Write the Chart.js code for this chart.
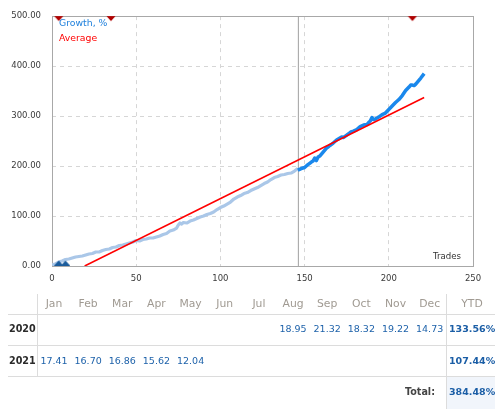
<!DOCTYPE html>
<html>
<head>
<meta charset="utf-8">
<script src="https://cdn.jsdelivr.net/npm/chart.js@4.4.1/dist/chart.umd.min.js"></script>
<style>
  html, body { margin:0; padding:0; background:#fff; width:504px; height:409px; overflow:hidden; font-family:'DejaVu Sans', sans-serif; }
  #c { position:absolute; left:0; top:0; }
  .t { position:absolute; white-space:nowrap; }
  .hl { position:absolute; height:1px; background:#dcdcdc; }
  .vl { position:absolute; width:1px; background:#dcdcdc; }
</style>
</head>
<body>
<canvas id="c" width="504" height="290"></canvas>
<div id="overlay"></div>
<script>
// ---------- data ----------
const growthTradesLight = [0, 2, 4, 6, 8, 10, 12, 14, 16, 18, 20, 22, 24, 26, 28, 30, 32, 34, 36, 38, 40, 42, 44, 46, 48, 50, 52, 54, 56, 58, 60, 62, 64, 66, 68, 70, 72, 74, 75, 76, 77, 78, 80, 82, 84, 86, 88, 90, 92, 94, 96, 98, 100, 102, 104, 106, 108, 110, 112, 114, 116, 118, 120, 122, 124, 126, 128, 130, 132, 134, 136, 138, 140, 142, 144, 146];
const growthValuesLight = [2, 4, 8, 10, 13, 14, 16, 18, 19, 20, 22, 24, 25, 28, 28, 31, 33, 34, 37, 38, 41, 42, 44, 46, 48, 51, 50, 53, 54, 56, 56, 58, 60, 63, 65, 70, 72, 76, 82, 86, 84, 87, 86, 90, 92, 95, 98, 100, 103, 105, 108, 113, 117, 120, 124, 128, 134, 138, 141, 145, 147, 151, 154, 157, 161, 165, 168, 173, 177, 179, 182, 183, 185, 186, 190, 195];
const growthTradesDark = [146, 148, 150, 152, 154, 155, 156, 157, 158, 159, 161, 163, 164, 165, 167, 169, 171, 172, 173, 175, 177, 178, 179, 181, 183, 185, 187, 188, 189, 190, 191, 192, 194, 196, 198, 200, 202, 204, 206, 208, 210, 212, 213, 214, 215, 216, 217, 219, 221];
const growthValuesDark = [192, 195, 197, 203, 208, 210, 216, 211, 218, 220, 228, 236, 238, 241, 246, 252, 256, 258, 257, 262, 267, 269, 270, 273, 279, 282, 283, 287, 290, 297, 293, 294, 298, 303, 306, 313, 320, 327, 333, 341, 351, 358, 362, 362, 361, 364, 368, 376, 385];
const averageTrades = [19.4, 221];
const averageValues = [0, 337];
const redMarkerTrades = [4, 35, 214];
const blueMarkerTrades = [4, 8];
const separatorTrade = 146.3;
const xTickValues = [0, 50, 100, 150, 200, 250];
const yTickValues = [0, 100, 200, 300, 400, 500];

const months = ['Jan','Feb','Mar','Apr','May','Jun','Jul','Aug','Sep','Oct','Nov','Dec'];
const years = ['2020', '2021'];
const returns2020 = [null, null, null, null, null, null, null, 18.95, 21.32, 18.32, 19.22, 14.73];
const returns2021 = [17.41, 16.70, 16.86, 15.62, 12.04, null, null, null, null, null, null, null];
const ytdValues = [133.56, 107.44];
const totalValue = 384.48;

// ---------- chart ----------
const xMin = xTickValues[0], xMax = xTickValues[xTickValues.length - 1];
const yMin = yTickValues[0], yMax = yTickValues[yTickValues.length - 1];
const pts = (xs, ys) => xs.map((x, i) => ({ x: x, y: ys[i] }));

function triangleImage(color, down) {
  const cv = document.createElement('canvas');
  cv.width = 10; cv.height = 12;
  const g = cv.getContext('2d');
  g.fillStyle = color;
  g.beginPath();
  if (down) { g.moveTo(0.5, 6); g.lineTo(9.5, 6); g.lineTo(5, 11); }
  else { g.moveTo(0, 6); g.lineTo(10, 6); g.lineTo(5, 0.5); }
  g.closePath(); g.fill();
  return cv;
}
const redTri = triangleImage('#b00000', true);
const blueTri = triangleImage('#1b5c9c', false);

const framePlugin = {
  id: 'frame',
  beforeDatasetsDraw(chart) {
    const a = chart.chartArea, c = chart.ctx;
    c.save();
    c.strokeStyle = '#a8a8a8';
    c.lineWidth = 1;
    c.strokeRect(Math.round(a.left) + 0.5, Math.round(a.top) + 0.5, Math.round(a.right - a.left), Math.round(a.bottom - a.top));
    c.restore();
  }
};

Chart.defaults.font.family = "'DejaVu Sans', sans-serif";

new Chart(document.getElementById('c'), {
  type: 'line',
  data: {
    datasets: [
      { data: redMarkerTrades.map(t => ({ x: t, y: yMax })), showLine: false, pointStyle: redTri, pointRadius: 5, clip: false },
      { data: blueMarkerTrades.map(t => ({ x: t, y: yMin })), showLine: false, pointStyle: blueTri, pointRadius: 5, clip: false },
      { data: pts(averageTrades, averageValues), borderColor: '#ff0000', borderWidth: 1.6, pointRadius: 0, tension: 0 },
      { data: pts(growthTradesDark, growthValuesDark), borderColor: '#1a88ec', borderWidth: 3.5, pointRadius: 0, tension: 0, borderJoinStyle: 'round' },
      { data: pts(growthTradesLight, growthValuesLight), borderColor: '#aac7e8', borderWidth: 3.2, pointRadius: 0, tension: 0, borderJoinStyle: 'round' },
      { data: [{ x: separatorTrade, y: yMin }, { x: separatorTrade, y: yMax }], borderColor: '#a0a0a0', borderWidth: 1, pointRadius: 0 }
    ]
  },
  options: {
    responsive: false,
    animation: false,
    events: [],
    layout: { padding: { top: 11, right: 31, left: 0, bottom: 0 } },
    plugins: { legend: { display: false }, tooltip: { enabled: false } },
    scales: {
      x: {
        type: 'linear', min: xMin, max: xMax,
        afterFit(s) { s.height = 24; },
        afterBuildTicks(s) { s.ticks = xTickValues.map(v => ({ value: v })); },
        ticks: { color: '#3a3a3a', font: { size: 8.5 }, padding: 8, maxRotation: 0 },
        grid: { color: '#d6d6d6', drawTicks: false, lineWidth: 1 },
        border: { display: false, dash: [4, 4] }
      },
      y: {
        type: 'linear', min: yMin, max: yMax,
        afterFit(s) { s.width = 52; },
        afterBuildTicks(s) { s.ticks = yTickValues.map(v => ({ value: v })); },
        ticks: { color: '#3a3a3a', font: { size: 8.5 }, padding: 11, callback: v => Number(v).toFixed(2) },
        grid: { color: '#d6d6d6', drawTicks: false, lineWidth: 1 },
        border: { display: false, dash: [4, 4] }
      }
    }
  },
  plugins: [framePlugin]
});

// ---------- overlay texts & table ----------
const ov = document.getElementById('overlay');
function text(str, opts) {
  const d = document.createElement('div');
  d.className = 't';
  d.textContent = str;
  Object.assign(d.style, opts);
  ov.appendChild(d);
  return d;
}
function box(cls, opts) {
  const d = document.createElement('div');
  d.className = cls;
  Object.assign(d.style, opts);
  ov.appendChild(d);
}
// legend
text('Growth, %', { left: '59px', top: '16px', fontSize: '9.3px', lineHeight: '13px', color: '#1f80dc' });
text('Average', { left: '59px', top: '31px', fontSize: '9.3px', lineHeight: '13px', color: '#ff0000' });
text('Trades', { left: '433px', top: '250px', fontSize: '8.6px', lineHeight: '13px', color: '#333' });

// table
box('', { position: 'absolute', left: '447px', top: '377px', width: '48px', height: '32px', background: '#f1f5fb' });
[314, 345, 376].forEach(y => box('hl', { left: '8px', width: '487px', top: y + 'px' }));
box('vl', { left: '37px', top: '294px', height: '82px' });
box('vl', { left: '446px', top: '294px', height: '115px' });

const colX = months.map((m, i) => 54 + i * 34.15);
const rowY = [329, 361];
const headerY = 304;
months.forEach((m, i) => text(m, { left: (colX[i] - 20) + 'px', width: '40px', textAlign: 'center', top: (headerY - 8) + 'px', lineHeight: '16px', fontSize: '10.8px', color: '#a09a92' }));
text('YTD', { left: '452px', width: '40px', textAlign: 'center', top: (headerY - 8) + 'px', lineHeight: '16px', fontSize: '10.8px', color: '#a09a92' });

const rows = [returns2020, returns2021];
years.forEach((yr, r) => {
  text(yr, { left: '9px', top: (rowY[r] - 8) + 'px', lineHeight: '16px', fontSize: '9.6px', fontWeight: 'bold', color: '#2b2b2b' });
  rows[r].forEach((v, i) => {
    if (v === null) return;
    text(v.toFixed(2), { left: (colX[i] - 20) + 'px', width: '40px', textAlign: 'center', top: (rowY[r] - 8) + 'px', lineHeight: '16px', fontSize: '9.5px', color: '#1e62aa' });
  });
  text(ytdValues[r].toFixed(2) + '%', { left: '449px', top: (rowY[r] - 8) + 'px', lineHeight: '16px', fontSize: '9.5px', fontWeight: 'bold', color: '#1b5ea6' });
});
text('Total:', { left: '385px', width: '50px', textAlign: 'right', top: '384px', lineHeight: '16px', fontSize: '9.6px', fontWeight: 'bold', color: '#444' });
text(totalValue.toFixed(2) + '%', { left: '449px', top: '384px', lineHeight: '16px', fontSize: '9.5px', fontWeight: 'bold', color: '#1b5ea6' });
</script>
</body>
</html>
